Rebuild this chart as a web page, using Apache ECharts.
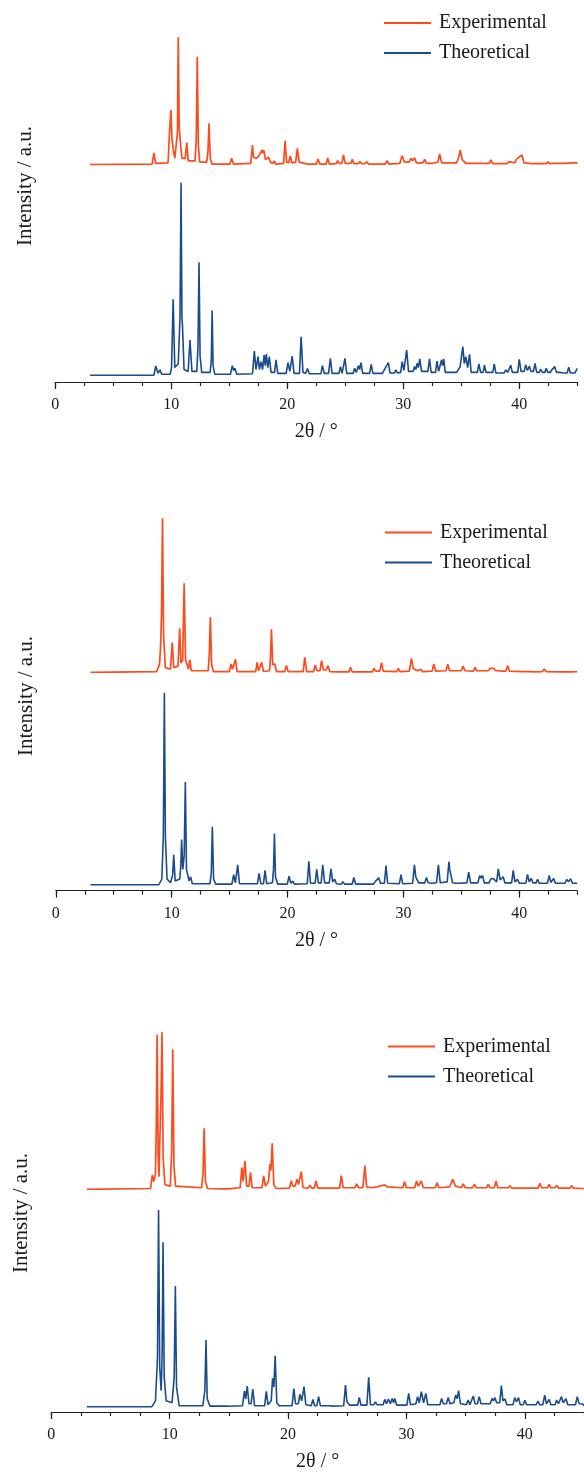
<!DOCTYPE html>
<html>
<head>
<meta charset="utf-8">
<script src="https://cdn.jsdelivr.net/npm/echarts@6/dist/echarts.min.js"></script>
<style>html,body{margin:0;padding:0;background:#fff}#c{width:584px;height:1473px}</style>
</head>
<body>
<div id="c"></div>
<script>
// ---- DATA ----
const seriesNames = ['Experimental', 'Theoretical'];
const majorTicks = [0, 10, 20, 30, 40];
const minorTicks = [0, 2.5, 5, 7.5, 10, 12.5, 15, 17.5, 20, 22.5, 25, 27.5, 30, 32.5, 35, 37.5, 40, 42.5, 45];
const xTitle = '2θ / °';
const yTitle = 'Intensity / a.u.';

// Panel 1 (2θ, relative intensity)
const exp1 = [[3,0],[8.35,0.5],[8.5,9.3],[8.65,1],[9.72,1.5],[9.85,26],[9.97,43],[10.06,20],[10.16,12],[10.3,5],[10.45,6],[10.53,25],[10.6,100],[10.68,30],[10.78,18],[10.92,5],[11.2,5],[11.33,17.3],[11.46,3],[12.05,3],[12.15,20],[12.24,84.8],[12.33,15],[12.45,2],[13.05,2],[13.16,10],[13.25,32.6],[13.36,5],[13.5,0.5],[15.05,0.5],[15.2,5],[15.35,0.5],[16.85,1],[17.0,15.4],[17.08,6],[17.16,6],[17.3,5],[17.48,6],[17.62,6],[17.81,11.5],[17.89,9],[17.97,11.5],[18.12,4],[18.39,5.8],[18.55,2],[18.75,1],[18.87,3],[19.0,0.5],[19.68,1],[19.81,18.8],[19.94,2],[20.12,1.5],[20.26,6.8],[20.4,1.5],[20.72,2],[20.87,12.8],[21.02,2],[21.5,1],[21.61,2.4],[21.75,0.5],[22.52,0.5],[22.65,4.5],[22.8,0.5],[23.35,0.5],[23.48,5.2],[23.62,0.5],[24.22,0.8],[24.35,3.1],[24.5,1],[24.7,1],[24.84,7.6],[25.0,1],[25.48,1],[25.61,4.2],[25.75,0.8],[26.12,0.8],[26.26,2.4],[26.4,0.8],[26.7,0.8],[26.84,2.4],[27.0,0.5],[28.45,0.5],[28.6,3.1],[28.75,0.5],[29.7,1],[29.9,7],[30.1,2],[30.5,2],[30.65,5],[30.8,3],[30.97,5.5],[31.12,1.5],[31.7,1.5],[31.84,4.2],[32.0,1],[32.45,1],[32.58,2.4],[32.72,1.5],[32.98,2],[33.13,8.4],[33.3,1.5],[34.6,1.5],[34.78,6],[34.9,11.5],[35.08,4],[35.23,4.2],[35.4,1],[36.2,1],[36.35,2.4],[36.5,1],[37.4,1],[37.55,3.7],[37.7,0.8],[38.95,0.8],[39.1,2.4],[39.25,1],[39.6,1.5],[39.74,4.2],[39.9,3],[40.23,7.6],[40.4,1.5],[40.9,1],[41.03,2.4],[41.18,0.8],[41.7,0.8],[41.84,1.6],[42.0,0.8],[42.35,0.8],[42.48,2.4],[42.62,0.8],[43.0,1],[43.94,1],[44.9,1.6],[45,0.8]];
const theo1 = [[3,0],[3.95,0],[4.1,1.0],[4.25,0],[8.5,0],[8.66,4.8],[8.85,1],[9.02,2.8],[9.17,0.5],[9.9,0.5],[10.02,4],[10.16,39.4],[10.3,4],[10.6,6],[10.75,30],[10.84,100],[10.92,30],[10.97,25],[11.1,3],[11.45,2],[11.61,18.3],[11.78,2],[12.2,2],[12.3,15],[12.39,58.7],[12.48,10],[12.62,1.5],[13.35,1.5],[13.45,8],[13.52,33.6],[13.6,5],[13.75,0.5],[15.1,0.5],[15.26,5],[15.38,2.5],[15.48,3.6],[15.65,0.5],[17.0,0.8],[17.16,12.6],[17.3,3],[17.48,9.7],[17.6,3],[17.74,7.1],[17.87,3],[18.0,10.5],[18.1,5],[18.19,11],[18.32,4],[18.45,9.7],[18.6,1.5],[18.9,1.5],[19.03,8],[19.18,1],[19.9,1],[20.06,6.6],[20.22,2],[20.42,10],[20.58,1],[21.05,1],[21.19,20],[21.35,1.5],[21.6,1],[21.74,3.5],[21.9,0.8],[22.9,0.8],[23.03,5],[23.18,1],[23.56,1],[23.71,8.8],[23.86,1],[24.45,1],[24.58,4.5],[24.72,1],[24.84,1],[24.97,8.8],[25.12,1],[25.68,1],[25.8,3.6],[25.95,1.5],[26.13,5],[26.23,3],[26.35,6.6],[26.5,1],[27.1,1],[27.23,5.7],[27.38,1],[27.7,1],[27.8,1.9],[27.92,1],[28.2,1],[28.3,2.2],[28.45,1.5],[28.71,6.6],[28.85,1.2],[29.25,1.2],[29.35,2.8],[29.5,1.2],[29.78,1.5],[29.9,7.1],[30.05,2.5],[30.17,2.5],[30.29,13.1],[30.45,2],[30.85,2],[30.97,4.5],[31.08,3],[31.19,6.2],[31.3,4],[31.42,8.5],[31.57,2],[32.12,2],[32.26,8.5],[32.4,1.5],[32.78,1.5],[32.9,7.4],[33.05,2],[33.18,3],[33.29,8],[33.38,5],[33.48,8.5],[33.62,1.5],[34.6,1.5],[34.9,4.5],[35.03,4],[35.13,14.9],[35.26,6],[35.39,9.7],[35.55,4],[35.71,10.9],[35.85,1.5],[36.38,1.5],[36.52,5.9],[36.66,1.5],[36.88,1.5],[37.0,5.2],[37.13,1.5],[37.72,1.5],[37.84,5.9],[37.98,1.2],[38.7,1.2],[38.84,2.8],[39.0,1.5],[39.12,1.5],[39.26,5.2],[39.4,1.5],[39.86,1.5],[40.0,8.3],[40.15,2],[40.42,2],[40.55,5.4],[40.7,2.5],[40.87,4.8],[41.0,2],[41.22,2],[41.35,6.2],[41.5,1.5],[41.72,1.5],[41.84,3.1],[42.0,1.5],[42.2,1.5],[42.32,3.6],[42.46,1.5],[42.68,1.5],[42.8,2.8],[42.93,2],[43.06,4.5],[43.2,1.5],[43.5,1.5],[43.6,2.4],[43.75,1.2],[44.12,1.2],[44.26,4.2],[44.4,1.2],[44.8,1.2],[45,3.6]];

// Panel 2
const exp2 = [[3,0],[8.7,0.5],[8.95,5],[9.05,17.7],[9.13,40],[9.21,100],[9.3,25],[9.45,3],[9.9,2],[10.05,19.3],[10.18,3],[10.55,4],[10.69,28.6],[10.8,6],[10.95,8],[11.08,57.8],[11.2,8],[11.45,2],[11.57,8],[11.7,1],[13.15,1],[13.25,12],[13.34,35.7],[13.45,5],[13.6,0.5],[14.98,0.5],[15.12,5.4],[15.25,2],[15.51,8.4],[15.65,0.5],[17.25,0.5],[17.38,6.5],[17.5,1],[17.64,1],[17.77,6.5],[17.92,0.5],[18.45,1],[18.53,10],[18.61,27.9],[18.72,5],[18.9,5.4],[19.05,0.5],[19.76,0.5],[19.9,4.5],[20.05,0.5],[21.35,0.5],[21.49,9.7],[21.64,0.5],[22.25,0.5],[22.39,4.8],[22.54,1],[22.8,1],[22.94,7.6],[23.1,1.5],[23.34,1.5],[23.49,4.3],[23.64,0.5],[24.35,0.3],[24.49,1.5],[24.64,0.3],[25.3,0.3],[25.43,3.2],[25.58,0.3],[27.32,0.3],[27.46,2.6],[27.6,0.8],[27.96,0.8],[28.11,6.3],[28.26,0.8],[29.42,0.5],[29.56,2.6],[29.7,0.5],[30.52,0.8],[30.69,9.1],[30.85,2.5],[31.02,3.7],[31.2,1],[31.35,1],[31.5,2],[31.65,0.5],[32.48,0.8],[32.63,5.4],[32.78,0.8],[33.68,1],[33.83,5.2],[33.98,1],[35.0,1],[35.15,4.1],[35.3,1],[36.04,0.8],[36.19,3.2],[36.34,1],[37.33,1],[37.48,2.6],[37.62,1.5],[37.8,2.6],[37.95,1],[38.2,1],[38.35,2],[38.5,0.8],[38.85,0.8],[39.0,4.3],[39.15,0.8],[40.25,0.5],[40.39,1.5],[40.55,0.5],[40.95,0.5],[41.1,0.9],[41.25,0.3],[42.0,0.5],[42.16,2.2],[42.3,0.5],[43.65,0.3],[43.78,0.9],[43.92,0.3],[44.6,0.3],[44.75,1.5],[44.9,0.5],[45,0.3]];
const theo2 = [[3,0],[8.9,0],[9.15,3],[9.28,25],[9.37,100],[9.46,25],[9.6,3],[9.9,1],[10.08,5],[10.18,15.6],[10.3,2],[10.7,3],[10.79,10],[10.86,23.6],[10.96,8],[11.08,15],[11.18,53.5],[11.28,8],[11.5,2],[11.63,4.2],[11.78,0.5],[13.3,0.5],[13.42,6],[13.51,30.2],[13.62,3],[13.8,0.3],[15.2,0.3],[15.35,5.2],[15.5,1],[15.58,2],[15.7,10.4],[15.85,0.5],[17.4,0.5],[17.54,5.9],[17.7,0.5],[17.92,0.5],[18.06,7.5],[18.2,0.5],[18.7,1],[18.79,8],[18.87,26.7],[18.96,4],[19.15,0.3],[19.98,0.3],[20.13,4.5],[20.28,0.8],[20.45,1.9],[20.6,0.3],[21.7,0.5],[21.84,12.2],[21.98,0.8],[22.38,0.8],[22.52,8],[22.66,1],[22.9,1],[23.04,10.4],[23.2,1],[23.6,1],[23.75,8.3],[23.9,1.5],[24.07,2.8],[24.22,0.5],[24.65,0.3],[24.78,1.6],[24.92,0.3],[25.58,0.3],[25.72,3.8],[25.88,0.3],[27.42,0.3],[27.56,1.6],[27.7,0.8],[27.88,3.6],[28.02,0.8],[28.36,0.8],[28.5,10],[28.64,0.8],[29.65,0.5],[29.79,5.2],[29.94,0.5],[30.8,0.8],[30.95,10.4],[31.07,4],[31.18,5],[31.32,1],[31.85,1],[31.99,3.8],[32.14,1],[32.31,1.9],[32.45,0.8],[32.86,1],[33.02,10.4],[33.18,1],[33.78,1.5],[33.93,12],[34.0,8],[34.09,8.5],[34.24,1],[34.5,0.8],[34.64,1.4],[34.8,0.8],[35.48,1],[35.64,6.6],[35.8,1],[36.43,1],[36.58,4.7],[36.7,3.5],[36.83,4.9],[36.98,1],[37.4,1],[37.54,3],[37.64,2.5],[37.74,3.3],[38.05,1.5],[38.19,8.3],[38.35,2.5],[38.61,4.2],[38.76,1],[39.34,1],[39.48,7.5],[39.62,1.5],[39.84,2.8],[40.0,0.8],[40.57,0.8],[40.71,5.4],[40.86,1.5],[41.03,3.3],[41.18,1],[41.45,1],[41.58,2.8],[41.72,0.8],[42.44,0.8],[42.58,4.9],[42.73,1.2],[42.97,3.3],[43.12,0.8],[43.95,0.8],[44.1,2.8],[44.25,1.5],[44.43,3.1],[44.6,0.8],[45,0.8]];

// Panel 3
const exp3 = [[3,0],[8.38,0.5],[8.53,9.1],[8.65,5],[8.8,10],[8.87,40],[8.94,98.3],[9.03,20],[9.1,8],[9.18,35],[9.27,60],[9.35,100],[9.45,20],[9.6,3],[10.05,2],[10.17,25],[10.26,89.2],[10.36,15],[10.5,2],[12.7,1],[12.82,10],[12.91,38.9],[13.02,5],[13.2,0.5],[14.6,0.3],[14.75,0.6],[14.9,0.3],[15.95,1],[16.1,13.8],[16.2,5],[16.36,18],[16.5,2],[16.7,2],[16.83,10.8],[16.97,1],[17.8,1],[17.94,8.5],[18.08,2],[18.35,5],[18.47,16.1],[18.55,12],[18.66,29.3],[18.8,3],[19.0,0.5],[20.12,0.8],[20.27,5.5],[20.4,2],[20.6,2],[20.75,6.4],[20.88,3],[21.12,11.3],[21.27,1],[21.7,0.8],[21.85,2.5],[22.0,0.8],[22.22,0.8],[22.36,5.3],[22.5,0.8],[24.35,0.8],[24.5,8.7],[24.65,1],[25.65,1],[25.8,3.4],[25.95,1],[26.33,1],[26.49,15.1],[26.64,1.5],[27.07,1],[27.22,1.3],[27.5,1.5],[28.0,2.5],[28.17,2.8],[28.4,1.5],[29.7,1],[29.84,4.9],[29.99,1],[30.7,1],[30.85,5.3],[31.0,2],[31.1,2],[31.26,5.3],[31.42,1],[32.44,1],[32.59,4.2],[32.74,1],[33.65,1.5],[33.91,6.4],[34.15,2],[34.65,1],[34.8,3.4],[34.95,1],[35.6,1],[35.74,3.2],[35.9,1],[36.76,1],[36.91,3.2],[37.05,1],[37.42,1],[37.57,5.3],[37.72,1],[38.6,1],[38.74,2.3],[38.9,0.8],[41.12,0.8],[41.27,3.8],[41.42,1],[41.92,1],[42.06,3.2],[42.2,1],[42.55,1],[42.69,2.5],[42.84,0.8],[43.8,0.8],[43.95,2.3],[44.1,0.8],[44.75,0.5],[44.9,1],[45,0.5]];
const theo3 = [[3,0],[8.5,0],[8.8,3],[8.97,25],[9.06,100],[9.16,20],[9.28,8.1],[9.36,25],[9.44,83.6],[9.54,15],[9.7,3],[10.2,2],[10.38,15],[10.48,61.4],[10.58,10],[10.8,0.5],[12.8,0.5],[12.97,8],[13.07,33.9],[13.17,4],[13.4,0.3],[14.3,0.3],[14.43,1],[14.56,0.3],[14.78,0.3],[14.9,0.8],[15.05,0.2],[16.15,0.5],[16.32,8.1],[16.42,4],[16.55,10.5],[16.7,1.5],[16.88,1.5],[17.02,9],[17.17,0.5],[18.02,0.5],[18.16,7.8],[18.3,1],[18.58,3],[18.69,14.4],[18.8,10],[18.91,25.9],[19.05,2],[19.25,0.5],[20.34,0.5],[20.49,9.2],[20.63,1.5],[20.87,1.5],[21.0,6.3],[21.15,3],[21.35,10.2],[21.5,1],[21.96,0.5],[22.1,3.7],[22.25,0.5],[22.43,0.5],[22.58,5.1],[22.73,0.5],[23.5,0.5],[23.62,1],[23.75,0.3],[24.7,0.5],[24.85,11],[24.97,2.5],[25.07,3.4],[25.2,0.8],[25.88,0.8],[26.02,4.7],[26.16,0.8],[26.66,0.8],[26.81,14.9],[26.96,1],[27.24,1],[27.38,2.5],[27.52,1],[28.03,1],[28.17,3.7],[28.32,1.5],[28.48,3.9],[28.64,1.5],[28.8,4.2],[28.91,2],[29.02,4.2],[29.17,0.8],[30.04,0.8],[30.19,6.8],[30.34,1],[30.8,1.5],[30.94,5.1],[31.08,2],[31.26,7.6],[31.45,2],[31.64,6.8],[31.8,1],[32.83,1],[32.97,4.2],[33.12,1.5],[33.38,1.5],[33.53,4.7],[33.68,1.5],[34.0,2],[34.16,5.9],[34.28,4],[34.41,8.1],[34.56,1.5],[35.07,1],[35.21,3.4],[35.36,1],[35.5,1],[35.65,5.4],[35.8,1.5],[36.0,1.5],[36.15,5.1],[36.3,1.5],[37.08,1.5],[37.23,4.2],[37.35,3],[37.48,4.6],[37.62,2],[37.88,2],[38.02,10.7],[38.15,3],[38.33,3.9],[38.48,1],[39.0,1],[39.15,4.6],[39.3,2.5],[39.47,4.6],[39.62,1],[39.86,1],[40.0,3.2],[40.15,1],[40.96,1],[41.11,2.9],[41.25,1],[41.52,1],[41.68,5.9],[41.83,1.5],[42.06,3.7],[42.2,1],[42.55,1],[42.69,3.4],[42.84,1.5],[43.1,5.1],[43.25,2],[43.48,4.1],[43.62,1],[44.28,1],[44.43,5.1],[44.6,1.5],[44.9,1.4],[45,0.5]];

const expData = [exp1, exp2, exp3];
const theoData = [theo1, theo2, theo3];

// ---- LAYOUT / STYLE ----
const FONT = '"Liberation Serif", "Times New Roman", serif';
const EXP_COLOR = '#ff4a1c';
const THEO_COLOR = '#1a4b8c';
const TEXT_COLOR = '#1a1a1a';

const panels = [
  {left: 55.3, right: 6.7, expTop: 37.3, expH: 127.4, theoTop: 182.7, theoH: 199.3, theoMin: -3.5,
   legendLeft: 379, legendTop: 8, yLabelX: 25, yLabelY: 186},
  {left: 55.8, right: 6.8, expTop: 518.3, expH: 154, theoTop: 692.7, theoH: 198, theoMin: -3.1,
   legendLeft: 380, legendTop: 517.5, yLabelX: 26, yLabelY: 696},
  {left: 51.3, right: 0, expTop: 1032.3, expH: 157, theoTop: 1210, theoH: 202, theoMin: -2.7,
   legendLeft: 383, legendTop: 1031.5, yLabelX: 21, yLabelY: 1213}
];

const grid = [], xAxis = [], yAxis = [], series = [], legend = [], graphic = [];
panels.forEach((p, i) => {
  grid.push({left: p.left, right: p.right, top: p.expTop, height: p.expH, containLabel: false});
  grid.push({left: p.left, right: p.right, top: p.theoTop, height: p.theoH, containLabel: false});
  const gE = 2 * i, gT = 2 * i + 1;
  xAxis.push({type: 'value', gridIndex: gE, min: 0, max: 45, show: false});
  xAxis.push({
    type: 'value', gridIndex: gT, min: 0, max: 45, position: 'bottom',
    axisLine: {show: true, onZero: false, lineStyle: {color: '#222', width: 1.2}},
    axisTick: {show: true, length: 7, customValues: majorTicks, lineStyle: {color: '#222', width: 1.2}},
    axisLabel: {show: true, customValues: majorTicks, margin: 15, fontFamily: FONT, fontSize: 16, color: TEXT_COLOR},
    splitLine: {show: false},
    name: xTitle, nameLocation: 'middle', nameGap: 40,
    nameTextStyle: {fontFamily: FONT, fontSize: 20, color: TEXT_COLOR}
  });
  xAxis.push({
    type: 'value', gridIndex: gT, min: 0, max: 45, position: 'bottom',
    axisLine: {show: false, onZero: false},
    axisTick: {show: true, length: 4, customValues: minorTicks, lineStyle: {color: '#222', width: 1.2}},
    axisLabel: {show: false},
    splitLine: {show: false}
  });
  yAxis.push({type: 'value', gridIndex: gE, min: 0, max: 100, show: false});
  yAxis.push({type: 'value', gridIndex: gT, min: p.theoMin, max: 100, show: false});
  series.push({
    name: seriesNames[0], type: 'line', xAxisIndex: 3 * i, yAxisIndex: 2 * i,
    data: expData[i], symbol: 'none', smooth: false, silent: true,
    lineStyle: {color: EXP_COLOR, width: 1.7}, itemStyle: {color: EXP_COLOR}
  });
  series.push({
    name: seriesNames[1], type: 'line', xAxisIndex: 3 * i + 1, yAxisIndex: 2 * i + 1,
    data: theoData[i], symbol: 'none', smooth: false, silent: true,
    lineStyle: {color: THEO_COLOR, width: 1.6}, itemStyle: {color: THEO_COLOR}
  });
  legend.push({
    data: seriesNames, orient: 'vertical', left: p.legendLeft, top: p.legendTop,
    icon: 'rect', itemWidth: 47, itemHeight: 2, itemGap: 10, selectedMode: false,
    textStyle: {fontFamily: FONT, fontSize: 20, color: TEXT_COLOR, lineHeight: 20, padding: [0, 0, 0, 3]}
  });
  graphic.push({
    type: 'text', x: p.yLabelX, y: p.yLabelY, rotation: Math.PI / 2,
    style: {text: yTitle, font: '21px ' + FONT, fill: TEXT_COLOR, textAlign: 'center', textVerticalAlign: 'middle'}
  });
});

const chart = echarts.init(document.getElementById('c'), null, {renderer: 'canvas'});
chart.setOption({
  animation: false,
  backgroundColor: '#ffffff',
  grid, xAxis, yAxis, series, legend, graphic
});
</script>
</body>
</html>
